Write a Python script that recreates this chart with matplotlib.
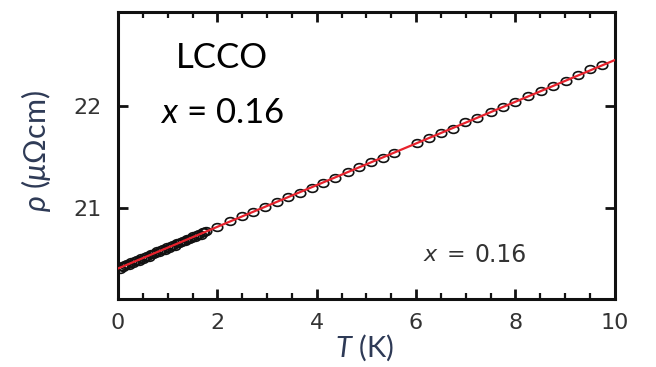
import matplotlib
matplotlib.use("Agg")
import matplotlib.pyplot as plt
from matplotlib.path import Path
from matplotlib.transforms import Affine2D
from matplotlib.ticker import MultipleLocator

plt.rcParams["font.family"] = ["DejaVu Sans"]
plt.rcParams["mathtext.fontset"] = "custom"
plt.rcParams["mathtext.it"] = "Lato:italic"
plt.rcParams["mathtext.rm"] = "Lato"

# low-T resistivity of LCCO, x = 0.16
T_K = [0.03, 0.07, 0.10, 0.14, 0.18, 0.22, 0.26, 0.30, 0.34, 0.38,
       0.42, 0.46, 0.50, 0.54, 0.58, 0.62, 0.66, 0.70, 0.74, 0.78,
       0.82, 0.86, 0.90, 0.94, 0.98, 1.02, 1.06, 1.10, 1.14, 1.18,
       1.22, 1.26, 1.30, 1.34, 1.38, 1.42, 1.46, 1.50, 1.54, 1.58,
       1.62, 1.66, 1.70, 1.74, 1.78,
       2.00, 2.25, 2.49, 2.72, 2.96, 3.20, 3.43, 3.66, 3.90, 4.13,
       4.37, 4.62, 4.86, 5.10, 5.33, 5.55, 6.02, 6.27, 6.51, 6.75,
       6.98, 7.23, 7.51, 7.75, 7.99, 8.25, 8.52, 8.76, 9.02, 9.26,
       9.50, 9.74]
rho = [20.40, 20.43, 20.42, 20.44, 20.45, 20.44, 20.47, 20.46, 20.48, 20.49,
       20.48, 20.51, 20.50, 20.52, 20.53, 20.52, 20.55, 20.55, 20.56, 20.58,
       20.57, 20.59, 20.60, 20.59, 20.62, 20.61, 20.63, 20.64, 20.63, 20.66,
       20.66, 20.67, 20.68, 20.68, 20.70, 20.70, 20.71, 20.73, 20.72, 20.74,
       20.75, 20.74, 20.77, 20.77, 20.78,
       20.82, 20.87, 20.92, 20.96, 21.01, 21.06, 21.11, 21.15, 21.20, 21.25,
       21.30, 21.35, 21.40, 21.45, 21.49, 21.54, 21.64, 21.69, 21.74, 21.78,
       21.84, 21.88, 21.94, 21.99, 22.04, 22.10, 22.15, 22.20, 22.25, 22.30,
       22.36, 22.40]

# linear fit, endpoints
fit_T = [0.0, 10.0]
fit_rho = [20.41, 22.45]

x_ticks = [0, 2, 4, 6, 8, 10]
y_ticks = [21, 22]

# slightly flattened open circle
oval = Affine2D().scale(1.35, 1.0).transform_path(Path.unit_circle())

fig = plt.figure(figsize=(6.56, 3.67), dpi=100)
ax = fig.add_axes([0.180, 0.185, 0.757, 0.782])

ax.plot(T_K, rho, ls="none", marker=oval, mfc="none", mec="#111111",
        mew=1.2, ms=7.5, zorder=2)
ax.plot(fit_T, fit_rho, "-", color="#e8222c", lw=1.6, zorder=3)

ax.set_xlim(0, 10)
ax.set_ylim(20.11, 22.92)
ax.set_xticks(x_ticks)
ax.set_yticks(y_ticks)
ax.xaxis.set_minor_locator(MultipleLocator(0.5))

for s in ax.spines.values():
    s.set_linewidth(2.2)
    s.set_color("#111111")
ax.tick_params(which="both", direction="in", top=True, right=True,
               color="#111111", labelcolor="#333333")
ax.tick_params(which="major", length=7.5, width=2, labelsize=16)
ax.tick_params(axis="x", which="major", pad=10)
ax.tick_params(axis="y", which="major", pad=12)
ax.tick_params(which="minor", length=4, width=1.6)

# inset label, lower right
ax.text(6.28, 20.54, "x", fontsize=16, color="#333333", style="italic",
        ha="center", va="center")
ax.text(6.80, 20.54, "=", fontsize=16, color="#333333",
        ha="center", va="center")
ax.text(7.18, 20.54, "0.16", fontsize=17, color="#333333",
        ha="left", va="center")

ax.text(2.1, 22.47, "LCCO", fontsize=25, color="black",
        family="Lato", ha="center", va="center")
ax.text(2.1, 21.93, r"$x$ = 0.16", fontsize=25, color="black",
        family="Lato", ha="center", va="center")

label_color = "#2e3a56"
fig.text(0.055, 0.589, r"$\rho$ ($\mu$Ωcm)", rotation=90, fontsize=22,
         color=label_color, family="Lato", ha="center", va="center")
fig.text(0.556, 0.052, r"$T$ (K)", fontsize=21,
         color=label_color, family="Lato", ha="center", va="center")

fig.savefig("out.png", dpi=100)
